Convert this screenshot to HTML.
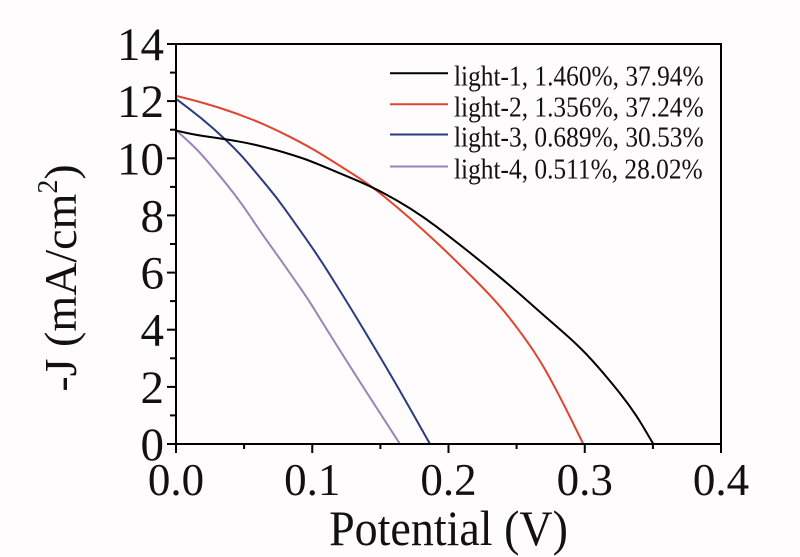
<!DOCTYPE html>
<html>
<head>
<meta charset="utf-8">
<style>
html,body{margin:0;padding:0;background:#fefcfc;}
svg{display:block;}
text{font-family:"Liberation Serif","Times New Roman",serif;fill:#111;}
</style>
</head>
<body>
<svg width="800" height="557" viewBox="0 0 800 557" xmlns="http://www.w3.org/2000/svg">
<rect x="0" y="0" width="800" height="557" fill="#fefcfc"/>
<!-- curves -->
<g fill="none" stroke-width="2" stroke-linejoin="round" stroke-linecap="butt">
<path stroke="#9a83b6" d="M176.7,130.7 L186.35,139.5 Q196,148.3 202.65,155.8 Q209.3,163.3 217.65,173.3 Q226,183.3 234.35,194.15 Q242.7,205 251,217.5 Q259.3,230 267.65,241.65 Q276,253.3 284.35,265.15 Q292.7,277 301,289 Q309.3,301 316,312 Q322.7,323 339.7,350 Q356.7,377 378.35,410.5 L400,444"/>
<path stroke="#2c3a80" d="M176.7,99.3 L189.7,109.15 Q202.7,119 214.35,129.5 Q226,140 234.35,148.35 Q242.7,156.7 251,166.7 Q259.3,176.7 267.65,186.7 Q276,196.7 284.35,208.35 Q292.7,220 301,231.65 Q309.3,243.3 316,253.3 Q322.7,263.3 329,273.3 Q335.3,283.3 342.65,295.15 Q350,307 360,323.5 Q370,340 383.35,362.5 Q396.7,385 413.35,414.5 L430,444"/>
<path stroke="#e0452f" d="M176.7,96 L190,99.35 Q203.3,102.7 220,108 Q236.7,113.3 253.35,120 Q270,126.7 289.65,136.7 Q309.3,146.7 322.65,155 Q336,163.3 353,174.15 Q370,185 383.35,195.85 Q396.7,206.7 410,218.35 Q423.3,230 436.65,242.5 Q450,255 471.65,276.5 Q493.3,298 505,312.35 Q516.7,326.7 528.35,343.35 Q540,360 550,378.35 Q560,396.7 571.65,420.35 L583.3,444"/>
<path stroke="#000" d="M176.7,130.7 L186.35,132.85 Q196,135 211,137.15 Q226,139.3 237.65,141.3 Q249.3,143.3 262.65,146.65 Q276,150 284.35,152.5 Q292.7,155 301,157.75 Q309.3,160.5 322.65,166.1 Q336,171.7 353,178.85 Q370,186 383.35,193 Q396.7,200 410,208.35 Q423.3,216.7 436.65,226.85 Q450,237 466.65,250.15 Q483.3,263.3 498.3,275.8 Q513.3,288.3 528.3,301.65 Q543.3,315 561.65,330.85 Q580,346.7 593.35,361.7 Q606.7,376.7 620,393.35 Q633.3,410 643.3,427 L653.3,444"/>
</g>
<!-- axes box -->
<rect x="176" y="44" width="545" height="400" fill="none" stroke="#000" stroke-width="2"/>
<!-- y ticks -->
<g stroke="#000" stroke-width="2">
<line x1="167" y1="444" x2="176" y2="444"/>
<line x1="167" y1="386.9" x2="176" y2="386.9"/>
<line x1="167" y1="329.7" x2="176" y2="329.7"/>
<line x1="167" y1="272.6" x2="176" y2="272.6"/>
<line x1="167" y1="215.4" x2="176" y2="215.4"/>
<line x1="167" y1="158.3" x2="176" y2="158.3"/>
<line x1="167" y1="101.1" x2="176" y2="101.1"/>
<line x1="167" y1="44" x2="176" y2="44"/>
<line x1="170" y1="415.4" x2="176" y2="415.4"/>
<line x1="170" y1="358.3" x2="176" y2="358.3"/>
<line x1="170" y1="301.1" x2="176" y2="301.1"/>
<line x1="170" y1="244" x2="176" y2="244"/>
<line x1="170" y1="186.9" x2="176" y2="186.9"/>
<line x1="170" y1="129.7" x2="176" y2="129.7"/>
<line x1="170" y1="72.6" x2="176" y2="72.6"/>
<!-- x ticks -->
<line x1="176" y1="444" x2="176" y2="453"/>
<line x1="312.25" y1="444" x2="312.25" y2="453"/>
<line x1="448.5" y1="444" x2="448.5" y2="453"/>
<line x1="584.75" y1="444" x2="584.75" y2="453"/>
<line x1="721" y1="444" x2="721" y2="453"/>
<line x1="244.1" y1="444" x2="244.1" y2="449"/>
<line x1="380.4" y1="444" x2="380.4" y2="449"/>
<line x1="516.6" y1="444" x2="516.6" y2="449"/>
<line x1="652.9" y1="444" x2="652.9" y2="449"/>
</g>
<!-- y tick labels -->
<g font-size="47" text-anchor="end">
<text x="164" y="460">0</text>
<text x="164" y="402.9">2</text>
<text x="164" y="345.7">4</text>
<text x="164" y="288.6">6</text>
<text x="164" y="231.4">8</text>
<text x="164" y="174.3">10</text>
<text x="164" y="117.1">12</text>
<text x="164" y="60">14</text>
</g>
<!-- x tick labels -->
<g font-size="45" text-anchor="middle">
<text x="176" y="495">0.0</text>
<text x="312.25" y="495">0.1</text>
<text x="448.5" y="495">0.2</text>
<text x="584.75" y="495">0.3</text>
<text x="721" y="495">0.4</text>
</g>
<!-- axis labels -->
<g transform="translate(448.5,545) scale(1,1.08)">
<text x="0" y="0" font-size="46" text-anchor="middle">Potential (V)</text>
</g>
<g transform="translate(76,278) rotate(-90)">
<text x="0" y="0" font-size="46" text-anchor="middle">-J (mA/cm<tspan font-size="28" dy="-19">2</tspan><tspan dy="19">)</tspan></text>
</g>
<!-- legend -->
<g stroke-width="2">
<line x1="390" y1="73.3" x2="448" y2="73.3" stroke="#000"/>
<line x1="390" y1="104.3" x2="448" y2="104.3" stroke="#e0452f"/>
<line x1="390" y1="134.5" x2="448" y2="134.5" stroke="#2c3a80"/>
<line x1="390" y1="166.5" x2="448" y2="166.5" stroke="#9a83b6"/>
</g>
<g font-size="25.4">
<g transform="translate(454,85.5) scale(1,1.12)"><text x="0" y="0">light-1, 1.460%, 37.94%</text></g>
<g transform="translate(454,116.5) scale(1,1.12)"><text x="0" y="0">light-2, 1.356%, 37.24%</text></g>
<g transform="translate(454,146.7) scale(1,1.12)"><text x="0" y="0">light-3, 0.689%, 30.53%</text></g>
<g transform="translate(454,178.7) scale(1,1.12)"><text x="0" y="0">light-4, 0.511%, 28.02%</text></g>
</g>
</svg>
</body>
</html>
